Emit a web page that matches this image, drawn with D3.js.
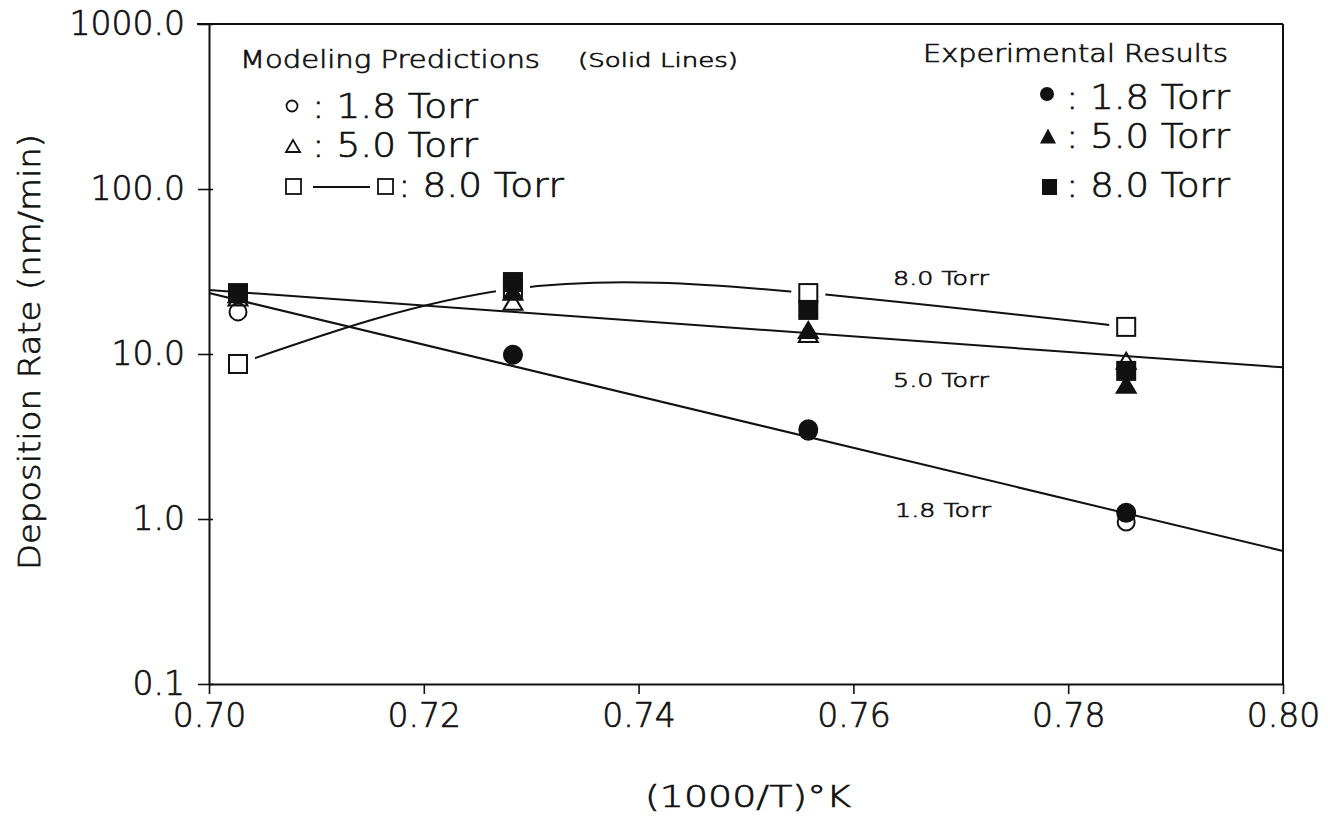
<!DOCTYPE html>
<html>
<head>
<meta charset="utf-8">
<script src="https://cdn.jsdelivr.net/npm/d3@7"></script>
<style>
  html, body { margin: 0; padding: 0; background: #fff; }
  svg { display: block; }
  text { font-family: "DejaVu Sans", "Liberation Sans", sans-serif; font-weight: 300; fill: #111; stroke: #111; stroke-width: 0.7px; }
</style>
</head>
<body>
<svg id="chart" width="1340" height="819"></svg>
<script>
// Reciprocal temperature of each run (1000/T, 1/K)
const invTemp = [0.7027, 0.7283, 0.7558, 0.7854];

// Modeling predictions (nm/min)
const model18 = [18.0, 9.9, 3.4, 0.96];
const model50 = [22.0, 20.7, 13.2, 9.1];
const model80 = [8.7, 24.8, 23.4, 14.6];

// Experimental results (nm/min)
const exp18 = [23.0, 9.9, 3.5, 1.09];
const exp50 = [23.0, 23.8, 14.0, 6.5];
const exp80 = [23.4, 27.3, 18.5, 7.9];

// Solid model lines for 1.8 and 5.0 Torr, drawn across the full axis
const lineX = [0.70, 0.80];
const line18 = [23.4, 0.64];
const line50 = [24.4, 8.3];

// Axis ticks
const xTicks = [0.70, 0.72, 0.74, 0.76, 0.78, 0.80];
const yTicks = [0.1, 1, 10, 100, 1000];

const svg = d3.select("#chart");
const ink = "#111";

const x = d3.scaleLinear().domain([0.70, 0.80]).range([209, 1283]);
const y = d3.scaleLog().domain([0.1, 1000]).range([684, 24]);

// Frame: top and right borders
svg.append("line").attr("x1", 197).attr("x2", 1283).attr("y1", y(1000)).attr("y2", y(1000))
  .attr("stroke", ink).attr("stroke-width", 2);
svg.append("line").attr("x1", 1283).attr("x2", 1283).attr("y1", y(1000)).attr("y2", y(0.1))
  .attr("stroke", ink).attr("stroke-width", 2);

// X axis
const gx = svg.append("g").attr("transform", `translate(0,${y(0.1)})`)
  .call(d3.axisBottom(x).tickValues(xTicks).tickSize(10).tickSizeOuter(0).tickPadding(10)
    .tickFormat(d3.format(".2f")));
gx.select(".domain").attr("stroke", ink).attr("stroke-width", 2);
gx.selectAll(".tick line").attr("stroke", ink).attr("stroke-width", 1.6);
gx.selectAll(".tick text").attr("font-size", 33).attr("fill", ink)
  .style("font-family", "'DejaVu Sans', sans-serif");

// Y axis
const gy = svg.append("g").attr("transform", `translate(${x(0.70)},0)`)
  .call(d3.axisLeft(y).tickValues(yTicks).tickSize(11).tickSizeOuter(0).tickPadding(13)
    .tickFormat(d3.format(".1f")));
gy.select(".domain").attr("stroke", ink).attr("stroke-width", 2);
gy.selectAll(".tick line").attr("x1", 4).attr("stroke", ink).attr("stroke-width", 1.6);
gy.selectAll(".tick text").attr("font-size", 33).attr("fill", ink)
  .style("font-family", "'DejaVu Sans', sans-serif");

// Axis titles
svg.append("text").attr("transform", "translate(40,352) rotate(-90)")
  .attr("text-anchor", "middle").attr("font-size", 30)
  .attr("textLength", 436).attr("lengthAdjust", "spacingAndGlyphs")
  .text("Deposition Rate (nm/min)");
svg.append("text").attr("x", 748).attr("y", 807)
  .attr("text-anchor", "middle").attr("font-size", 30)
  .attr("textLength", 206).attr("lengthAdjust", "spacingAndGlyphs")
  .text("(1000/T)°K");

const plot = svg.append("g");

// 8.0 Torr model curve through the predicted points
const pts80 = invTemp.map((t, i) => [x(t), y(model80[i])]);
plot.append("path").attr("d", d3.line().curve(d3.curveNatural)(pts80))
  .attr("fill", "none").attr("stroke", ink).attr("stroke-width", 2);
// white gaps where the curve meets its square markers
plot.selectAll(".gap").data(pts80).join("rect")
  .attr("x", d => d[0] - 17).attr("y", d => d[1] - 17)
  .attr("width", 34).attr("height", 34).attr("fill", "#fff");

// Straight model lines
const straight = d3.line().x(d => x(d[0])).y(d => y(d[1]));
[line18, line50].forEach(vals => {
  plot.append("path").attr("d", straight(lineX.map((t, i) => [t, vals[i]])))
    .attr("fill", "none").attr("stroke", ink).attr("stroke-width", 2);
});

// Marker shapes
const tri = (cx, cy, w, h) => `M${cx},${cy - h / 2}L${cx + w / 2},${cy + h / 2}L${cx - w / 2},${cy + h / 2}Z`;

function circles(vals, filled) {
  plot.selectAll(null).data(vals).join("circle")
    .attr("cx", (d, i) => x(invTemp[i])).attr("cy", d => y(d)).attr("r", filled ? 9 : 8.5)
    .attr("fill", filled ? ink : "none").attr("stroke", ink).attr("stroke-width", 2);
}
function triangles(vals, filled) {
  plot.selectAll(null).data(vals).join("path")
    .attr("d", (d, i) => tri(x(invTemp[i]), y(d), 19, 16))
    .attr("fill", filled ? ink : "none").attr("stroke", ink).attr("stroke-width", 2)
    .attr("stroke-linejoin", "miter");
}
function squares(vals, filled) {
  plot.selectAll(null).data(vals).join("rect")
    .attr("x", (d, i) => x(invTemp[i]) - 9).attr("y", d => y(d) - 9)
    .attr("width", 18).attr("height", 18)
    .attr("fill", filled ? ink : "#fff").attr("stroke", ink).attr("stroke-width", 2);
}

// Open markers (model) below, filled markers (experiment) on top
squares(model80, false);
circles(model18, false);
triangles(model50, false);
triangles(exp50, true);
circles(exp18, true);
squares(exp80, true);

// Line labels
[["8.0 Torr", 893, 285], ["5.0 Torr", 893, 387], ["1.8 Torr", 895, 517]].forEach(([t, lx, ly]) => {
  svg.append("text").attr("x", lx).attr("y", ly).attr("font-size", 20)
    .attr("textLength", 96).attr("lengthAdjust", "spacingAndGlyphs").text(t);
});

// Legend: modeling predictions
const leg = svg.append("g");
leg.append("text").attr("x", 240).attr("y", 68).attr("font-size", 24)
  .attr("textLength", 300).attr("lengthAdjust", "spacingAndGlyphs").text("Modeling Predictions");
leg.append("text").attr("x", 578).attr("y", 67).attr("font-size", 19)
  .attr("textLength", 160).attr("lengthAdjust", "spacingAndGlyphs").text("(Solid Lines)");

leg.append("circle").attr("cx", 292).attr("cy", 106).attr("r", 5.5)
  .attr("fill", "none").attr("stroke", ink).attr("stroke-width", 1.8);
leg.append("path").attr("d", tri(293, 146, 14, 12))
  .attr("fill", "none").attr("stroke", ink).attr("stroke-width", 1.8);
leg.append("rect").attr("x", 286).attr("y", 179).attr("width", 15).attr("height", 15)
  .attr("fill", "none").attr("stroke", ink).attr("stroke-width", 1.8);
leg.append("line").attr("x1", 313).attr("x2", 370).attr("y1", 187).attr("y2", 187)
  .attr("stroke", ink).attr("stroke-width", 2);
leg.append("rect").attr("x", 378).attr("y", 179).attr("width", 15).attr("height", 15)
  .attr("fill", "none").attr("stroke", ink).attr("stroke-width", 1.8);

[[": 1.8 Torr", 312, 118], [": 5.0 Torr", 312, 157], [": 8.0 Torr", 398, 197]].forEach(([t, lx, ly]) => {
  leg.append("text").attr("x", lx).attr("y", ly).attr("font-size", 33)
    .attr("textLength", 166).attr("lengthAdjust", "spacingAndGlyphs").text(t);
});

// Legend: experimental results
leg.append("text").attr("x", 923).attr("y", 62).attr("font-size", 24)
  .attr("textLength", 305).attr("lengthAdjust", "spacingAndGlyphs").text("Experimental Results");
leg.append("circle").attr("cx", 1047).attr("cy", 94).attr("r", 7).attr("fill", ink);
leg.append("path").attr("d", tri(1048, 136, 16, 15)).attr("fill", ink);
leg.append("rect").attr("x", 1042).attr("y", 179).attr("width", 15).attr("height", 16).attr("fill", ink);
[[": 1.8 Torr", 1066, 109], [": 5.0 Torr", 1066, 148], [": 8.0 Torr", 1066, 197]].forEach(([t, lx, ly]) => {
  leg.append("text").attr("x", lx).attr("y", ly).attr("font-size", 33)
    .attr("textLength", 164).attr("lengthAdjust", "spacingAndGlyphs").text(t);
});
</script>
</body>
</html>
